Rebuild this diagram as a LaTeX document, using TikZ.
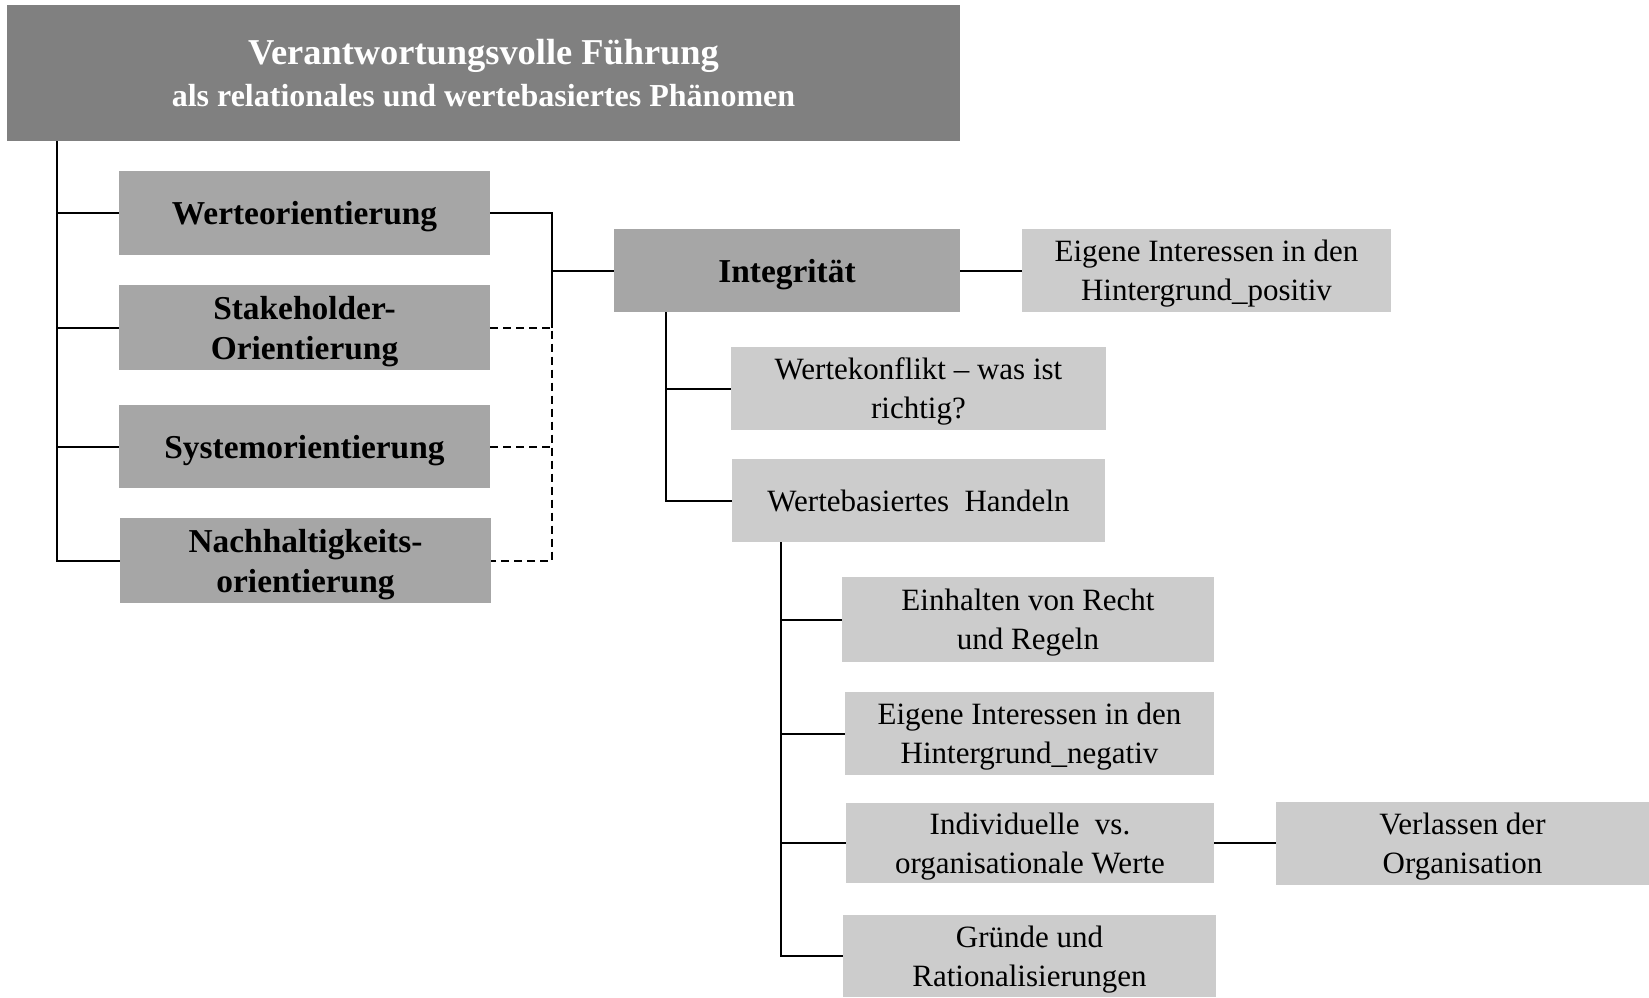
\documentclass[tikz,border=0pt]{standalone}
\usepackage{fontspec}
\setmainfont{Liberation Serif}
\definecolor{headgray}{gray}{0.502}
\definecolor{midgray}{gray}{0.651}
\definecolor{lightgray}{gray}{0.80}
\tikzset{
  box/.style={inner sep=0pt, outer sep=0pt, align=center, draw=none, text depth=-0.8pt},
  size/.style 2 args={minimum width=#1*0.5pt, minimum height=#2*0.5pt},
  headbox/.style={box, fill=headgray, text=white, font=\fontsize{16}{21}\selectfont\bfseries},
  midbox/.style={box, fill=midgray, font=\fontsize{16.7}{20}\selectfont\bfseries},
  lightbox/.style={box, fill=lightgray, font=\fontsize{15.5}{19.5}\selectfont},
  link/.style={line width=1pt, black},
  dashlink/.style={link, dash pattern=on 4pt off 2.5pt},
}
\begin{document}
\begin{tikzpicture}[x=0.5pt, y=-0.5pt]
  \useasboundingbox (0,0) rectangle (1649,997);

  % title
  \node[headbox, size={953}{136}] (top) at (483.5,73)
    {{\fontsize{18.2}{21}\selectfont Verantwortungsvolle Führung}\\
     als relationales und wertebasiertes Phänomen};

  % orientations
  \node[midbox, size={371}{84}] (wo) at (304.5,213) {Werteorientierung};
  \node[midbox, size={371}{85}] (sh) at (304.5,327.5) {Stakeholder-\\Orientierung};
  \node[midbox, size={371}{83}] (so) at (304.5,446.5) {Systemorientierung};
  \node[midbox, size={371}{85}] (nh) at (305.5,560.5) {Nachhaltigkeits-\\orientierung};

  % integrity branch
  \node[midbox, size={346}{83}] (integ) at (787,270.5) {Integrität};
  \node[lightbox, size={369}{83}] (pos) at (1206.5,270.5) {Eigene Interessen in den\\Hintergrund\_positiv};
  \node[lightbox, size={375}{83}] (wk) at (918.5,388.5) {Wertekonflikt – was ist\\richtig?};
  \node[lightbox, size={373}{83}] (wh) at (918.5,500.5) {Wertebasiertes\ \ Handeln};

  % value-based action
  \node[lightbox, size={372}{85}] (eh) at (1028,619.5) {Einhalten von Recht\\und Regeln};
  \node[lightbox, size={369}{83}] (neg) at (1029.5,733.5) {Eigene Interessen in den\\Hintergrund\_negativ};
  \node[lightbox, size={368}{80}] (ind) at (1030,843) {Individuelle\ \ vs.\\organisationale Werte};
  \node[lightbox, size={373}{83}] (ver) at (1462.5,843) {Verlassen der\\Organisation};
  \node[lightbox, size={373}{82}] (gr) at (1029.5,956) {Gründe und\\Rationalisierungen};

  % trunk positions
  \coordinate (ta) at (57,0);
  \coordinate (tb) at (552,0);
  \coordinate (tc) at (666,0);
  \coordinate (td) at (781,0);

  % left trunk
  \draw[link] (top.south -| ta) |- (nh.west);
  \draw[link] (ta |- wo.west) -- (wo.west);
  \draw[link] (ta |- sh.west) -- (sh.west);
  \draw[link] (ta |- so.west) -- (so.west);

  % bracket to integrity
  \draw[link] (wo.east) -| (tb |- sh.east);
  \draw[dashlink] (sh.east) -- (tb |- sh.east) -- (tb |- nh.east) -- (nh.east);
  \draw[dashlink] (so.east) -- (tb |- so.east);
  \draw[link] (tb |- integ.west) -- (integ.west);

  % integrity children
  \draw[link] (integ.east) -- (pos.west);
  \draw[link] (integ.south -| tc) |- (wh.west);
  \draw[link] (tc |- wk.west) -- (wk.west);

  % value-based action children
  \draw[link] (wh.south -| td) |- (gr.west);
  \draw[link] (td |- eh.west) -- (eh.west);
  \draw[link] (td |- neg.west) -- (neg.west);
  \draw[link] (td |- ind.west) -- (ind.west);
  \draw[link] (ind.east) -- (ver.west);
\end{tikzpicture}
\end{document}
